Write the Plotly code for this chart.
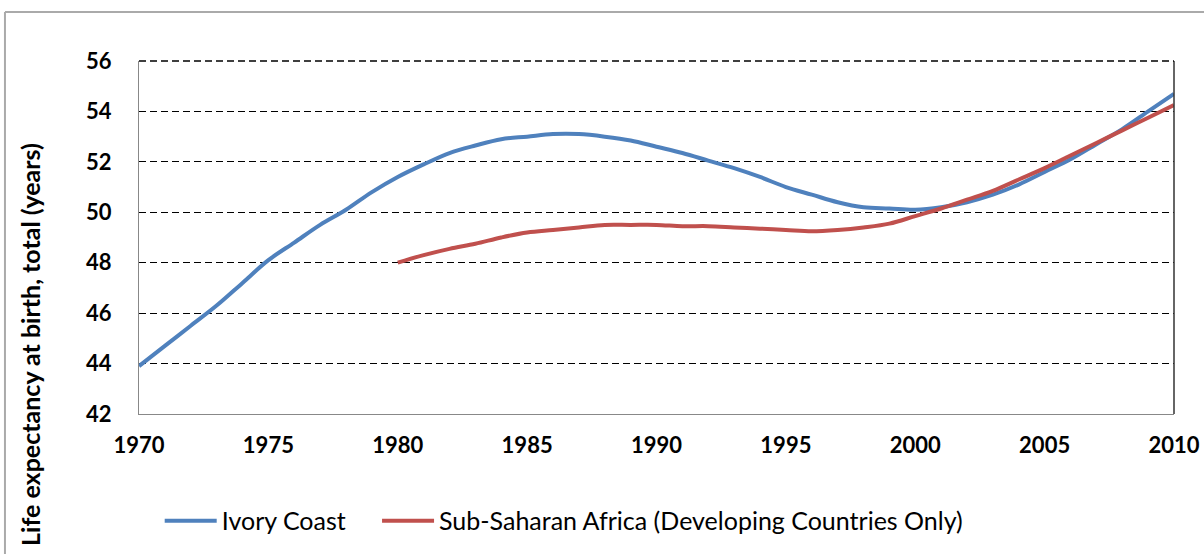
import plotly.graph_objects as go

years_ic = list(range(1970, 2011))
ivory_coast = [43.9, 44.7, 45.5, 46.3, 47.2, 48.1, 48.8, 49.5, 50.1, 50.8,
               51.4, 51.9, 52.35, 52.65, 52.9, 53.0, 53.1, 53.1, 53.0, 52.85,
               52.6, 52.35, 52.05, 51.75, 51.4, 51.0, 50.7, 50.4, 50.2, 50.15,
               50.1, 50.2, 50.4, 50.7, 51.1, 51.6, 52.1, 52.7, 53.3, 54.0, 54.7]

years_ssa = list(range(1980, 2011))
ssa = [48.0, 48.3, 48.55, 48.75, 49.0, 49.2, 49.3, 49.4, 49.5, 49.5,
       49.5, 49.45, 49.45, 49.4, 49.35, 49.3, 49.25, 49.3, 49.4, 49.55,
       49.85, 50.15, 50.5, 50.85, 51.3, 51.75, 52.25, 52.75, 53.25, 53.75, 54.25]

x_ticks = [1970, 1975, 1980, 1985, 1990, 1995, 2000, 2005, 2010]
y_ticks = [42, 44, 46, 48, 50, 52, 54, 56]

font_family = "Lato, 'Open Sans', sans-serif"

fig = go.Figure()
fig.add_trace(go.Scatter(x=years_ic, y=ivory_coast, mode="lines", name="Ivory Coast",
                         legend="legend",
                         line=dict(color="#4F81BD", width=4, shape="spline")))
fig.add_trace(go.Scatter(x=years_ssa, y=ssa, mode="lines",
                         name="Sub-Saharan Africa (Developing Countries Only)",
                         legend="legend2",
                         line=dict(color="#C0504D", width=4, shape="spline")))

legend_common = dict(orientation="h", y=-0.303, xanchor="left", yanchor="middle",
                     font=dict(family=font_family, size=25, color="black"),
                     bgcolor="rgba(0,0,0,0)", itemwidth=52)

fig.update_layout(
    width=1204, height=554,
    margin=dict(l=139, r=30, t=61, b=140, autoexpand=False),
    paper_bgcolor="white", plot_bgcolor="white",
    showlegend=True,
    legend=dict(x=0.02, **legend_common),
    legend2=dict(x=0.230, **legend_common),
    xaxis=dict(range=[1970, 2010], tickvals=x_ticks, ticks="", showgrid=False,
               showline=True, linecolor="#888888", linewidth=1, zeroline=False,
               automargin=False,
               tickfont=dict(family=font_family, size=22, color="black", weight="bold"),
               ticklabelstandoff=12),
    yaxis=dict(range=[42, 56], tickvals=y_ticks, ticks="", showgrid=True,
               gridcolor="black", griddash="7px,4px", gridwidth=1,
               showline=True, linecolor="#888888", linewidth=1, zeroline=False,
               automargin=False,
               tickfont=dict(family=font_family, size=22, color="black", weight="bold"),
               ticklabelstandoff=22),
    annotations=[dict(text="Life expectancy at birth, total (years)", textangle=-90,
                      xref="paper", yref="paper", x=-0.106, y=-0.38, xanchor="center",
                      yanchor="bottom", showarrow=False,
                      font=dict(family=font_family, size=25, color="black", weight="bold"))],
    shapes=[
        dict(type="line", xref="paper", yref="paper", x0=1, x1=1, y0=0, y1=1,
             line=dict(color="#333333", width=1.5)),
        dict(type="line", xref="paper", yref="paper", x0=0, x1=1, y0=1, y1=1,
             line=dict(color="black", width=1.5, dash="7px,4px")),
        dict(type="line", xref="paper", yref="paper", x0=-0.1295, x1=1.03, y0=1.1388, y1=1.1388,
             line=dict(color="#aaaaaa", width=2)),
        dict(type="line", xref="paper", yref="paper", x0=-0.1295, x1=-0.1295, y0=-0.4, y1=1.1388,
             line=dict(color="#aaaaaa", width=2)),
    ],
)

fig.write_html("out.html", config={"displayModeBar": False},
               post_script="document.body.style.margin='0';")
